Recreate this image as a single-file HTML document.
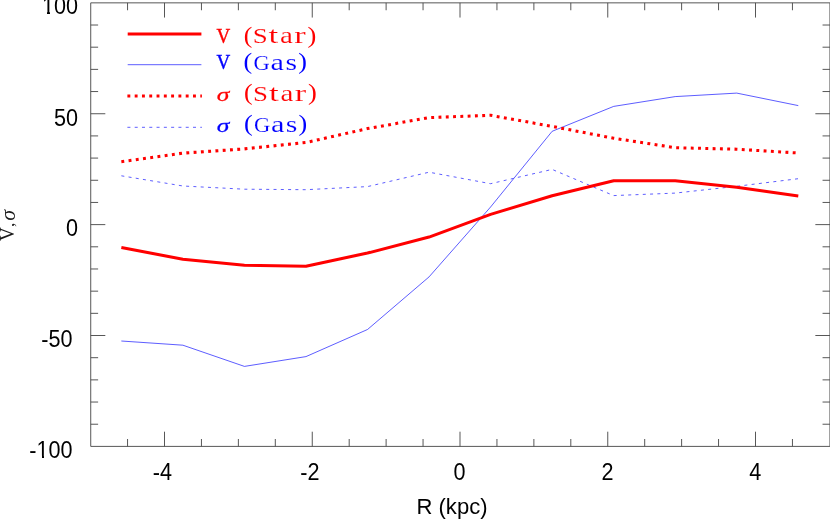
<!DOCTYPE html>
<html><head><meta charset="utf-8"><title>chart</title>
<style>
html,body{margin:0;padding:0;background:#fff;}
body{width:830px;height:520px;overflow:hidden;}
svg{display:block;}
.sans{font-family:"Liberation Sans",sans-serif;font-size:22.4px;fill:#000;}
.serif text{font-family:"Liberation Serif",serif;font-size:21.5px;}
</style></head><body>
<svg width="830" height="520" viewBox="0 0 830 520">
<defs><filter id="gs" filterUnits="userSpaceOnUse" x="0" y="0" width="830" height="520" color-interpolation-filters="sRGB"><feOffset dx="0" dy="0"/></filter></defs>
<rect width="830" height="520" fill="#fff"/>
<path d="M90.72 2.85 H829.95 V446.4 H90.72 Z" fill="none" stroke="#484848" stroke-width="0.92"/>
<path d="M127.56 446.4 v-7.4 M127.56 2.85 v7.4 M164.50 446.4 v-14.7 M164.50 2.85 v14.7 M201.44 446.4 v-7.4 M201.44 2.85 v7.4 M238.38 446.4 v-7.4 M238.38 2.85 v7.4 M275.31 446.4 v-7.4 M275.31 2.85 v7.4 M312.25 446.4 v-14.7 M312.25 2.85 v14.7 M349.19 446.4 v-7.4 M349.19 2.85 v7.4 M386.12 446.4 v-7.4 M386.12 2.85 v7.4 M423.06 446.4 v-7.4 M423.06 2.85 v7.4 M460.00 446.4 v-14.7 M460.00 2.85 v14.7 M496.94 446.4 v-7.4 M496.94 2.85 v7.4 M533.88 446.4 v-7.4 M533.88 2.85 v7.4 M570.81 446.4 v-7.4 M570.81 2.85 v7.4 M607.75 446.4 v-14.7 M607.75 2.85 v14.7 M644.69 446.4 v-7.4 M644.69 2.85 v7.4 M681.62 446.4 v-7.4 M681.62 2.85 v7.4 M718.56 446.4 v-7.4 M718.56 2.85 v7.4 M755.50 446.4 v-14.7 M755.50 2.85 v14.7 M792.44 446.4 v-7.4 M792.44 2.85 v7.4 M90.72 424.22 h7.4 M829.95 424.22 h-7.4 M90.72 402.04 h7.4 M829.95 402.04 h-7.4 M90.72 379.87 h7.4 M829.95 379.87 h-7.4 M90.72 357.69 h7.4 M829.95 357.69 h-7.4 M90.72 335.51 h14.6 M829.95 335.51 h-14.6 M90.72 313.33 h7.4 M829.95 313.33 h-7.4 M90.72 291.16 h7.4 M829.95 291.16 h-7.4 M90.72 268.98 h7.4 M829.95 268.98 h-7.4 M90.72 246.80 h7.4 M829.95 246.80 h-7.4 M90.72 224.62 h14.6 M829.95 224.62 h-14.6 M90.72 202.45 h7.4 M829.95 202.45 h-7.4 M90.72 180.27 h7.4 M829.95 180.27 h-7.4 M90.72 158.09 h7.4 M829.95 158.09 h-7.4 M90.72 135.91 h7.4 M829.95 135.91 h-7.4 M90.72 113.74 h14.6 M829.95 113.74 h-14.6 M90.72 91.56 h7.4 M829.95 91.56 h-7.4 M90.72 69.38 h7.4 M829.95 69.38 h-7.4 M90.72 47.20 h7.4 M829.95 47.20 h-7.4 M90.72 25.03 h7.4 M829.95 25.03 h-7.4" fill="none" stroke="#484848" stroke-width="0.92"/>
<g class="sans" filter="url(#gs)">
<text transform="translate(78.0,14.4) scale(0.965,1.08)" text-anchor="end">100</text>
<text transform="translate(78.0,125.5) scale(0.965,1.08)" text-anchor="end">50</text>
<text transform="translate(78.0,236.4) scale(0.965,1.08)" text-anchor="end">0</text>
<text transform="translate(72.6,347.3) scale(0.965,1.08)" text-anchor="end">-50</text>
<text transform="translate(72.6,458.2) scale(0.965,1.08)" text-anchor="end">-100</text>
<text transform="translate(162.3,480.4) scale(0.965,1.08)" text-anchor="middle">-4</text>
<text transform="translate(309.9,480.4) scale(0.965,1.08)" text-anchor="middle">-2</text>
<text transform="translate(459.5,480.4) scale(0.965,1.08)" text-anchor="middle">0</text>
<text transform="translate(607.5,480.4) scale(0.965,1.08)" text-anchor="middle">2</text>
<text transform="translate(755.2,480.4) scale(0.965,1.08)" text-anchor="middle">4</text>
<text transform="translate(452,514.1) scale(0.985,1.0)" text-anchor="middle">R (kpc)</text>
<path d="M42 11.4H47V14.8H42Z M50 11.4H53.6V14.8H50Z M37 455.4H42V458.8H37Z M44 455.4H48.2V458.8H44Z" fill="#fff"/>
</g>
<g class="serif" filter="url(#gs)">
<text transform="translate(14.08,240.91) rotate(-90) scale(0.884,1.007)" fill="#1a1a1a">V</text>
<text transform="translate(14.40,227.06) rotate(-90) scale(0.812,0.814)" fill="#1a1a1a">,</text>
<text transform="translate(14.99,220.66) rotate(-90) scale(1.024,0.964)" fill="#1a1a1a" font-style="italic">σ</text>
</g>
<!-- curves -->
<polyline points="121.35,175.80 182.89,186.00 244.43,189.20 305.97,189.70 367.51,186.60 429.05,172.20 490.59,183.70 552.13,169.40 613.67,195.60 675.21,193.10 736.75,186.30 798.29,178.70" fill="none" stroke="#0808ff" stroke-width="0.66" stroke-dasharray="3 4.29"/>
<polyline points="121.35,341.00 182.89,345.20 244.43,366.40 305.97,356.60 367.51,329.50 429.05,276.90 490.59,207.00 552.13,131.30 613.67,106.40 675.21,96.60 736.75,93.10 798.29,105.60" fill="none" stroke="#0808ff" stroke-width="0.66" stroke-linejoin="round"/>
<polyline points="121.35,161.70 182.89,153.10 244.43,148.90 305.97,142.50 367.51,128.60 429.05,117.60 490.59,115.30 552.13,126.40 613.67,138.20 675.21,147.70 736.75,149.20 798.29,153.00" fill="none" stroke="#ff0000" stroke-width="3.05" stroke-dasharray="2.9 4.39"/>
<polyline points="121.35,247.60 182.89,259.30 244.43,265.30 305.97,266.30 367.51,253.10 429.05,237.10 490.59,214.40 552.13,195.70 613.67,180.80 675.21,180.80 736.75,187.20 798.29,196.00" fill="none" stroke="#ff0000" stroke-width="3.05" stroke-linejoin="round"/>
<!-- legend -->
<path d="M127.7 34.0 H201.4" stroke="#ff0000" stroke-width="2.9"/>
<path d="M127.7 64.7 H201.4" stroke="#0808ff" stroke-width="0.66"/>
<path d="M127.4 96.05 H201.9" stroke="#ff0000" stroke-width="3.05" stroke-dasharray="2.9 4.39"/>
<path d="M127.4 127.3 H201.9" stroke="#0808ff" stroke-width="0.66" stroke-dasharray="3 4.29"/>
<g class="serif" filter="url(#gs)">
<text transform="translate(216.39,43.18) scale(0.884,1.007)" fill="#ff0000" stroke="#ff0000" stroke-width="0.45">V</text>
<text transform="translate(243.67,42.75) scale(1.194,1.103)" fill="#ff0000">(</text>
<text transform="translate(252.70,43.29) scale(1.253,0.997)" fill="#ff0000" stroke="#fff" stroke-width="0.12">S</text>
<text transform="translate(268.55,43.27) scale(1.633,1.080)" fill="#ff0000" stroke="#fff" stroke-width="0.12">t</text>
<text transform="translate(279.98,43.27) scale(1.354,1.058)" fill="#ff0000" stroke="#fff" stroke-width="0.12">a</text>
<text transform="translate(294.31,43.30) scale(1.606,1.057)" fill="#ff0000" stroke="#fff" stroke-width="0.12">r</text>
<text transform="translate(307.55,42.75) scale(1.231,1.103)" fill="#ff0000">)</text>
<text transform="translate(216.39,69.48) scale(0.884,1.007)" fill="#0000ff" stroke="#0000ff" stroke-width="0.45">V</text>
<text transform="translate(243.55,69.05) scale(1.213,1.103)" fill="#0000ff">(</text>
<text transform="translate(253.48,69.59) scale(1.045,0.997)" fill="#0000ff" stroke="#fff" stroke-width="0.12">G</text>
<text transform="translate(270.54,69.57) scale(1.413,1.058)" fill="#0000ff" stroke="#fff" stroke-width="0.12">a</text>
<text transform="translate(285.38,69.57) scale(1.386,1.054)" fill="#0000ff" stroke="#fff" stroke-width="0.12">s</text>
<text transform="translate(298.17,69.05) scale(1.213,1.103)" fill="#0000ff">)</text>
<text transform="translate(216.64,100.80) scale(1.184,0.920)" fill="#ff0000" font-style="italic" stroke="#ff0000" stroke-width="0.3">σ</text>
<text transform="translate(244.07,100.25) scale(1.194,1.103)" fill="#ff0000">(</text>
<text transform="translate(253.10,100.79) scale(1.253,0.997)" fill="#ff0000" stroke="#fff" stroke-width="0.12">S</text>
<text transform="translate(268.95,100.77) scale(1.633,1.080)" fill="#ff0000" stroke="#fff" stroke-width="0.12">t</text>
<text transform="translate(280.38,100.77) scale(1.354,1.058)" fill="#ff0000" stroke="#fff" stroke-width="0.12">a</text>
<text transform="translate(294.71,100.80) scale(1.606,1.057)" fill="#ff0000" stroke="#fff" stroke-width="0.12">r</text>
<text transform="translate(307.95,100.25) scale(1.231,1.103)" fill="#ff0000">)</text>
<text transform="translate(216.64,131.70) scale(1.184,0.920)" fill="#0000ff" font-style="italic" stroke="#0000ff" stroke-width="0.3">σ</text>
<text transform="translate(243.95,131.15) scale(1.213,1.103)" fill="#0000ff">(</text>
<text transform="translate(253.88,131.69) scale(1.045,0.997)" fill="#0000ff" stroke="#fff" stroke-width="0.12">G</text>
<text transform="translate(270.94,131.67) scale(1.413,1.058)" fill="#0000ff" stroke="#fff" stroke-width="0.12">a</text>
<text transform="translate(285.78,131.67) scale(1.386,1.054)" fill="#0000ff" stroke="#fff" stroke-width="0.12">s</text>
<text transform="translate(298.57,131.15) scale(1.213,1.103)" fill="#0000ff">)</text>
</g>
</svg>
</body></html>
